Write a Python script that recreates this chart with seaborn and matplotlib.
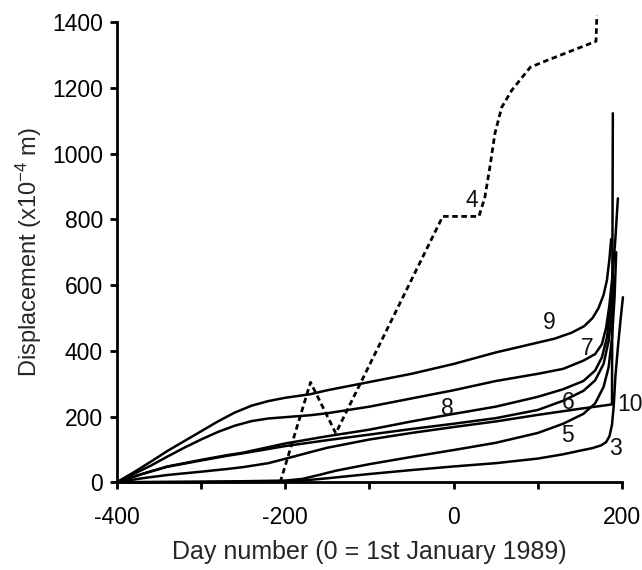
import matplotlib
matplotlib.use("Agg")
import matplotlib.pyplot as plt
import seaborn as sns
import pandas as pd

# ---- data ----
c9_x = [-400, -380, -360, -340, -320, -300, -280, -260, -240, -220, -200, -170, -150, -100, -50, 0, 50,
        100, 120, 140, 155, 165, 172, 178, 182, 185, 187]
c9_y = [0, 30, 62, 95, 125, 155, 185, 212, 233, 247, 257, 268, 280, 305, 330, 360, 395,
        425, 437, 455, 475, 500, 530, 570, 615, 680, 740]

c7_x = [-400, -380, -360, -340, -320, -300, -280, -260, -240, -220, -200, -170, -150, -100, -50, 0, 50,
        100, 130, 154, 168, 176, 181, 185, 189, 192, 195]
c7_y = [0, 25, 50, 78, 105, 130, 153, 172, 186, 194, 198, 204, 210, 230, 255, 280, 308,
        330, 345, 370, 390, 420, 470, 540, 640, 740, 864]

c8_x = [-400, -370, -340, -300, -270, -250, -200, -150, -100, -50, 0, 50, 100, 130, 154, 168, 176,
        182, 186, 189]
c8_y = [0, 25, 48, 68, 82, 90, 118, 140, 160, 185, 208, 230, 260, 283, 308, 340, 380,
        440, 530, 630]

c6_x = [-400, -370, -340, -300, -270, -250, -200, -150, -100, -50, 0, 50, 100, 130, 154, 168, 178,
        184, 188, 191]
c6_y = [0, 25, 47, 66, 80, 88, 110, 128, 145, 162, 178, 195, 220, 248, 278, 310, 360,
        430, 520, 620]

c10_x = [-400, -370, -340, -300, -270, -250, -220, -190, -171, -150, -100, -50, 0, 50, 100, 154,
         180, 188, 189]
c10_y = [0, 12, 22, 32, 40, 46, 58, 78, 91, 105, 130, 150, 168, 185, 205, 225,
         234, 237, 1123]

c5_x = [-400, -350, -300, -250, -200, -180, -160, -140, -100, -50, 0, 50, 100, 130, 154, 168, 178,
        184, 188, 191, 193]
c5_y = [0, 1, 2, 3, 5, 10, 22, 35, 55, 77, 98, 120, 150, 178, 208, 240, 290,
        350, 440, 560, 700]

c3_x = [-400, -300, -220, -180, -150, -100, -50, 0, 50, 100, 130, 150, 165, 175, 181, 185, 188,
        190, 192, 195, 198, 201]
c3_y = [0, 0, 1, 5, 12, 25, 37, 48, 58, 72, 85, 96, 104, 112, 122, 140, 175,
        230, 320, 410, 490, 563]

c4_x = [-206, -170, -140, -13, 30, 37, 43, 49, 57, 69, 91, 111, 142, 169, 170]
c4_y = [0, 304, 149, 809, 809, 867, 959, 1062, 1141, 1193, 1263, 1284, 1315, 1342, 1421]

solid_curves = {"9": (c9_x, c9_y), "7": (c7_x, c7_y), "8": (c8_x, c8_y),
                "6": (c6_x, c6_y), "10": (c10_x, c10_y), "5": (c5_x, c5_y),
                "3": (c3_x, c3_y)}

label_names = ["9", "7", "8", "6", "5", "3", "10", "4"]
label_x = [113, 158, -8, 136, 135, 192, 209, 22]
label_y = [487, 408, 225, 243, 143, 103, 237, 858]

x_ticks = [-400, -300, -200, -100, 0, 100, 200]
x_ticklabels = ["-400", "", "-200", "", "0", "", "200"]
y_ticks = [0, 200, 400, 600, 800, 1000, 1200, 1400]

# ---- plot ----
sns.set_style("ticks")
plt.rcParams["font.family"] = ["Liberation Sans", "DejaVu Sans"]
plt.rcParams["mathtext.fontset"] = "custom"
plt.rcParams["mathtext.rm"] = "Liberation Sans"
plt.rcParams["mathtext.it"] = "Liberation Sans:italic"

fig = plt.figure(figsize=(6.42, 5.70), dpi=100)
ax = fig.add_axes([0.182, 0.154, 0.787, 0.807])

for name, (xs, ys) in solid_curves.items():
    df = pd.DataFrame({"x": xs, "y": ys})
    sns.lineplot(data=df, x="x", y="y", ax=ax, sort=False, estimator=None,
                 color="black", lw=1.8, clip_on=False)

df4 = pd.DataFrame({"x": c4_x, "y": c4_y})
sns.lineplot(data=df4, x="x", y="y", ax=ax, sort=False, estimator=None,
             color="black", lw=2.0, linestyle=(0, (2.0, 1.3)), clip_on=False)

for t, lx, ly in zip(label_names, label_x, label_y):
    ax.text(lx, ly, t, fontsize=16.5, ha="center", va="center", color="#111111")

ax.set_xlim(-400, 200)
ax.set_ylim(0, 1400)
ax.set_xticks(x_ticks)
ax.set_xticklabels(x_ticklabels)
ax.set_yticks(y_ticks)
ax.tick_params(axis="both", direction="out", length=5, width=2, labelsize=16.5,
               color="black", labelcolor="black")
ax.tick_params(axis="x", pad=12)
ax.tick_params(axis="y", pad=5)
for s in ["left", "bottom"]:
    ax.spines[s].set_linewidth(2)
    ax.spines[s].set_color("black")
sns.despine(ax=ax)

ax.set_xlabel("Day number (0 = 1st January 1989)", fontsize=18, labelpad=8)
ax.set_ylabel("Displacement (x10$^{\\mathregular{-4}}$ m)", fontsize=17, labelpad=6)

fig.savefig("out.png", dpi=100)
